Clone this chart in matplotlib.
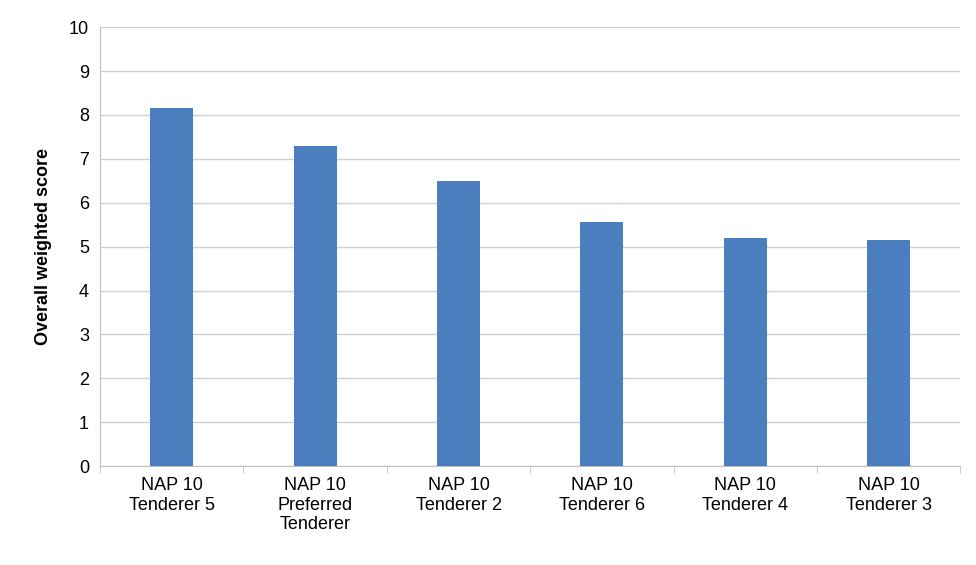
import matplotlib.pyplot as plt
import numpy as np

plt.rcParams['font.family'] = ['Liberation Sans', 'DejaVu Sans']

categories = ["NAP 10\nTenderer 5", "NAP 10\nPreferred\nTenderer", "NAP 10\nTenderer 2",
              "NAP 10\nTenderer 6", "NAP 10\nTenderer 4", "NAP 10\nTenderer 3"]
scores = [8.15, 7.3, 6.5, 5.55, 5.2, 5.15]

fig = plt.figure(figsize=(9.76, 5.65), dpi=100)
ax = fig.add_axes([0.1025, 0.175, 0.8815, 0.777])

x = np.arange(len(categories))
ax.bar(x, scores, width=0.3, color='#4a7ebf', zorder=3)

ax.set_xlim(-0.5, len(categories) - 0.5)
ax.set_ylim(0, 10)
ax.set_yticks(range(0, 11))
ax.yaxis.grid(True, color='#d0d0d0', linewidth=1, zorder=0)
ax.set_xticks(x)
ax.set_xticklabels(categories, fontsize=13)
ax.set_xticks(np.arange(-0.5, len(categories)), minor=True)
ax.tick_params(axis='x', which='major', length=0, pad=8)
ax.tick_params(axis='x', which='minor', length=5, color='#bfbfbf')
ax.tick_params(axis='y', length=0, labelsize=13, pad=8)
for s in ['top', 'right']:
    ax.spines[s].set_visible(False)
ax.spines['left'].set_color('#bfbfbf')
ax.spines['bottom'].set_color('#bfbfbf')
ax.set_ylabel('Overall weighted score', fontsize=13, fontweight='bold', labelpad=12)

fig.savefig('out.png', dpi=100)
